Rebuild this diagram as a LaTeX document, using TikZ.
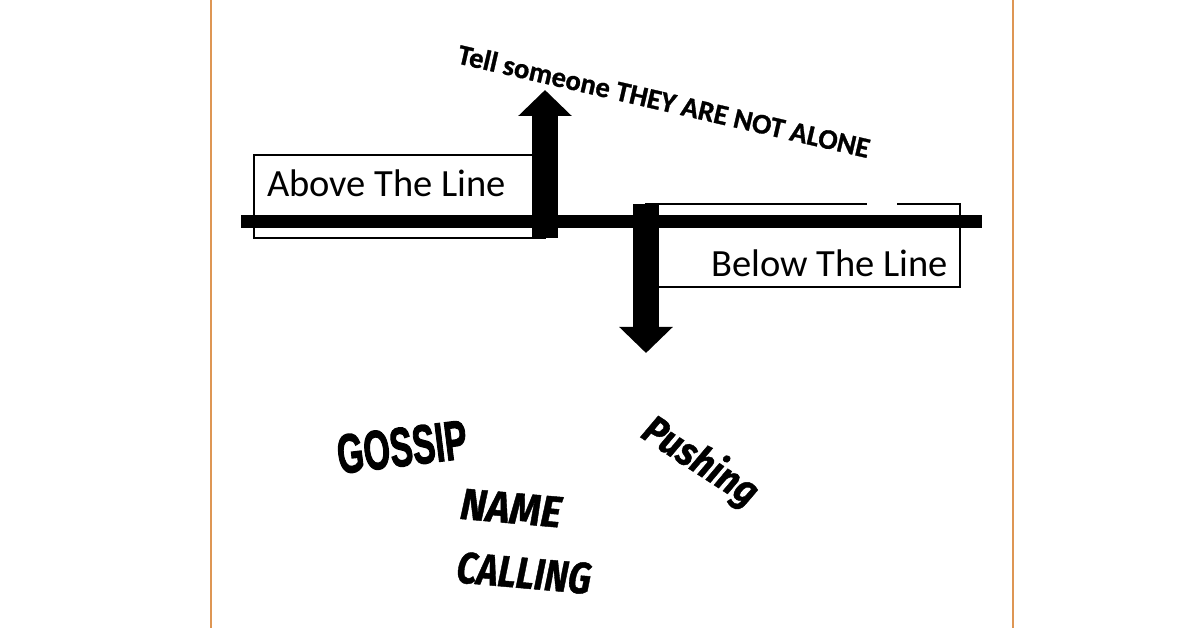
\documentclass[tikz,border=0pt]{standalone}
\usepackage{fontspec}
\setmainfont{Carlito}
\newfontfamily\heavyfont[FakeBold=2.5]{Liberation Sans}
\newfontfamily\markerfont[FakeBold=1]{Fira Sans}
\newfontfamily\tellfont[FakeBold=1]{Carlito}
\usetikzlibrary{arrows.meta}

\definecolor{frameorange}{RGB}{222,150,84}

\tikzset{
  linebox/.style={draw=black, line width=2},
  blockarrow/.style={line width=26, -{Triangle[length=26pt, width=52pt]}},
  boxlabel/.style={inner sep=0, font=\fontsize{38.5}{42}\selectfont},
  rough/.style={inner sep=0, font=\heavyfont\bfseries\fontsize{50}{54}\selectfont},
  marker/.style={inner sep=0, font=\markerfont\bfseries\itshape\fontsize{40}{44}\selectfont},
}

\begin{document}
\begin{tikzpicture}[x=1pt, y=-1pt]
\useasboundingbox (0,0) rectangle (1200,628);
\fill[white] (0,0) rectangle (1200,628);

\draw[frameorange, line width=2] (211,0) -- (211,628);
\draw[frameorange, line width=2] (1013,0) -- (1013,628);

\coordinate (lineL) at (241,222);
\coordinate (lineR) at (982,222);
\coordinate (upfoot) at (545,238);
\coordinate (uptip) at (545,90);
\coordinate (downtop) at (646,204);
\coordinate (downtip) at (646,353);

% boxes
\draw[linebox] (254,155) rectangle (upfoot);
\draw[linebox] (downtop) rectangle (960,287);
\draw[white, line width=4] (867,204) -- (897,204);
\node[boxlabel, anchor=base west] (above) at (267,197) {Above The Line};
\node[boxlabel, anchor=base east] (below) at (948,277) {Below The Line};

% the line and the arrows
\draw[line width=13] (lineL) -- (lineR);
\draw[blockarrow] (upfoot) -- (uptip);
\draw[blockarrow] (downtop) -- (downtip);

\node[inner sep=0, rotate=-13, font=\tellfont\bfseries\fontsize{28.5}{31}\selectfont] (tell) at (664,101) {Tell someone THEY ARE NOT ALONE};

\node[rough, rotate=7, xscale=0.68, yscale=1.1] (gossip) at (402,447) {GOSSIP};
\node[marker, rotate=-5, yscale=1.1] (name) at (511,508) {NAME};
\node[marker, rotate=-5, xscale=0.9, yscale=1.1] (calling) at (524,573) {CALLING};
\node[marker, rotate=-33, xscale=0.9] (pushing) at (700,462) {Pushing};
\end{tikzpicture}
\end{document}
